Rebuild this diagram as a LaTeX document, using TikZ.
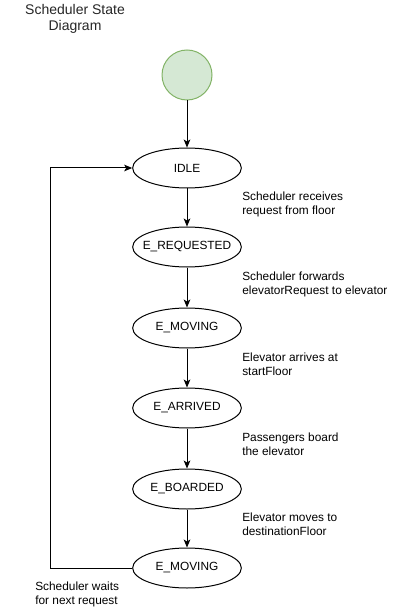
\documentclass[tikz,border=0pt]{standalone}
\usepackage{fontspec}
\setmainfont{Liberation Sans}
\usetikzlibrary{arrows.meta,shapes.geometric}
\definecolor{startfill}{HTML}{D5E8D4}
\definecolor{startline}{HTML}{82B366}
\newcommand{\zwtext}[1]{\makebox[0pt]{#1}}
\begin{document}
\begin{tikzpicture}[x=0.75pt,y=-0.75pt,
  state/.style={draw=black,line width=0.75pt,ellipse,minimum width=81.5pt,minimum height=30pt,inner sep=0pt,font=\fontsize{8.9pt}{10pt}\selectfont},
  startnode/.style={draw=startline,fill=startfill,circle,minimum size=37.5pt,inner sep=0pt,line width=0.75pt},
  lbl/.style={anchor=west,align=left,inner sep=0pt,font=\fontsize{8.9pt}{10.5pt}\selectfont},
  arr/.style={line width=0.75pt,-{Stealth[length=6pt,width=5pt,inset=1.5pt]}}]
\useasboundingbox (0,0) rectangle (400,609);
\node[align=center,font=\fontsize{10.5pt}{12pt}\selectfont,text=black!85] (title) at (75,19) {Scheduler State\\Diagram};
\node[startnode] (start) at (187,75) {};
\node[state] (idle) at (187,168) {\zwtext{IDLE}};
\node[state] (req) at (187,247) {\zwtext{E\_REQUESTED}};
\node[state] (mov1) at (187,328) {\zwtext{E\_MOVING}};
\node[state] (arr) at (187,408) {\zwtext{E\_ARRIVED}};
\node[state] (brd) at (187,489) {\zwtext{E\_BOARDED}};
\node[state] (mov2) at (187,568) {\zwtext{E\_MOVING}};
\draw[arr] (start) -- (idle);
\draw[arr] (idle) -- (req);
\draw[arr] (req) -- (mov1);
\draw[arr] (mov1) -- (arr);
\draw[arr] (arr) -- (brd);
\draw[arr] (brd) -- (mov2);
\coordinate (c1) at (50,568);
\coordinate (c2) at (50,168);
\draw[arr] (mov2.west) -- (c1) -- (c2) -- (idle.west);
\node[lbl] (l1) at (242,204) {Scheduler receives\\request from floor};
\node[lbl] (l2) at (242,284) {Scheduler forwards\\elevatorRequest to elevator};
\node[lbl] (l3) at (242,364) {Elevator arrives at\\startFloor};
\node[lbl] (l4) at (242,444) {Passengers board\\the elevator};
\node[lbl] (l5) at (242,524) {Elevator moves to\\destinationFloor};
\node[lbl] (l6) at (35,594) {Scheduler waits\\for next request};
\end{tikzpicture}
\end{document}
